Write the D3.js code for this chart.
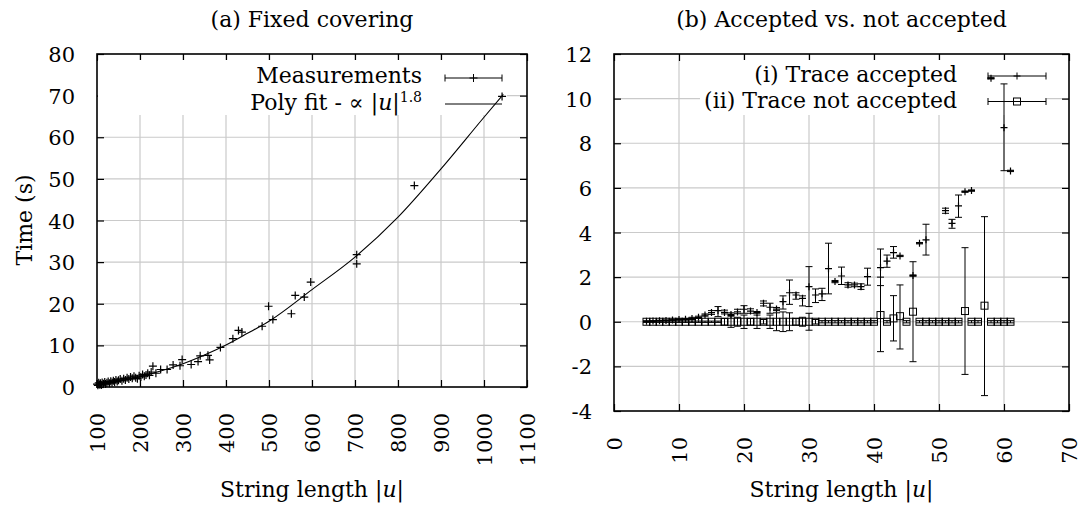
<!DOCTYPE html>
<html>
<head>
<meta charset="utf-8">
<script src="https://cdn.jsdelivr.net/npm/d3@7"></script>
<style>
  body { margin: 0; background: #fff; }
  svg text { font-family: "DejaVu Serif", serif; fill: #000; }
</style>
</head>
<body>
<div id="chart"></div>
<script>
// (a) measurements: string length vs time
const measX = [100,102,104,106,108,110,112,115,118,120,123,126,129,132,135,138,141,144,147,150,
  154,158,162,166,170,174,178,182,186,190,194,198,202,206,210,214,218,222,226,
  230,237,248,263,277,293,298,319,335,340,358,362,387,416,429,437,484,499,509,552,561,582,597,704,704,838,1042];
const measY = [0.7,0.4,1.0,0.6,0.9,0.5,1.1,0.8,1.2,0.7,1.0,1.3,0.9,1.4,1.1,1.5,1.2,1.7,1.3,1.6,
  1.9,1.5,2.0,1.7,2.2,1.9,2.4,2.1,2.6,2.2,2.0,2.7,2.4,3.0,2.6,2.9,3.3,2.8,3.6,
  5.0,3.3,4.2,4.2,5.3,5.1,6.6,5.4,6.1,7.5,7.6,6.5,9.5,11.6,13.6,13.2,14.6,19.4,16.2,17.6,22.0,21.6,25.2,31.8,29.6,48.4,69.8];

// (a) poly fit curve
const fitX = [100,150,200,250,300,350,400,450,500,600,700,800,900,1000,1045];
const fitY = [0.6,1.4,2.5,3.9,5.6,7.7,10.1,12.9,15.8,23.4,31.2,40.8,52.4,64.8,70.3];

// (b) trace accepted: value with min/max bar
const accX = [5,6,7,8,9,10,11,12,13,14,15,16,17,18,19,20,21,22,23,24,25,26,27,28,29,30,31,32,33,34,35,36,37,38,39,
  41,42,43,44,46,47,48,51,52,53,54,55,58,60,61];
const accY = [0.02,0.03,0.05,0.06,0.08,0.1,0.11,0.15,0.2,0.3,0.41,0.5,0.42,0.33,0.44,0.56,0.48,0.42,0.83,0.65,
  0.57,0.9,1.3,1.2,1.05,1.57,1.2,1.25,2.38,1.8,2.05,1.65,1.65,1.57,2.02,
  2.43,2.72,3.1,2.95,2.07,3.52,3.67,4.98,4.41,5.19,5.83,5.88,10.91,8.7,6.76];
const accLo = [0.0,0.01,0.03,0.04,0.05,0.07,0.08,0.1,0.15,0.25,0.33,0.23,0.35,0.28,0.36,0.38,0.38,0.38,0.71,0.38,
  0.5,0.57,0.78,1.01,0.71,0.68,0.86,0.95,1.25,1.75,1.67,1.55,1.57,1.45,1.64,
  1.62,2.44,2.85,2.92,2.04,3.49,2.99,4.86,4.19,4.68,5.8,5.85,10.88,6.77,6.73];
const accHi = [0.04,0.05,0.07,0.08,0.11,0.13,0.14,0.2,0.25,0.35,0.5,0.68,0.52,0.4,0.56,0.72,0.58,0.46,0.93,0.83,
  0.64,1.16,1.87,1.3,1.16,2.47,1.47,1.5,3.52,1.85,2.45,1.75,1.73,1.7,2.4,
  3.26,2.99,3.37,2.98,2.1,3.55,4.37,5.09,4.59,5.68,5.86,5.91,10.94,10.66,6.79];

// (b) trace not accepted: value with min/max bar
const rejX = [5,6,7,8,9,10,11,12,13,14,15,16,17,18,19,20,21,22,23,24,25,26,27,28,29,30,31,32,33,34,35,36,37,38,39,40,
  41,42,43,44,45,46,47,48,49,50,51,52,53,54,55,56,57,58,59,60,61];
const rejY = [0,0,0,0,0,0,0,0,0,0,0,0,0,0,0,0,0,0,0,0,0,0,0,0,0,0,0,0,0,0,0,0,0,0,0,0,
  0.3,0,0.15,0.25,0,0.45,0,0,0,0,0,0,0,0.48,0,0,0.72,0,0,0,0];
const rejLo = [-0.03,-0.03,-0.03,-0.03,-0.03,-0.03,-0.03,-0.03,-0.03,-0.03,-0.03,-0.03,
  -0.15,-0.25,-0.2,-0.3,-0.15,-0.3,-0.1,-0.3,-0.4,-0.44,-0.4,-0.15,-0.2,-0.38,-0.1,
  -0.05,-0.05,-0.05,-0.05,-0.05,-0.05,-0.05,-0.05,-0.05,
  -1.34,-0.05,-0.86,-1.22,-0.05,-1.79,-0.05,-0.05,-0.05,-0.05,-0.05,-0.05,-0.05,
  -2.36,-0.05,-0.05,-3.31,-0.05,-0.05,-0.05,-0.05];
const rejHi = [0.03,0.03,0.03,0.03,0.03,0.03,0.03,0.03,0.03,0.03,0.03,0.03,
  0.15,0.25,0.2,0.3,0.15,0.3,0.1,0.3,0.4,0.44,0.4,0.15,0.2,0.38,0.1,
  0.05,0.05,0.05,0.05,0.05,0.05,0.05,0.05,0.05,
  2.0,0.05,1.17,1.65,0.05,2.69,0.05,0.05,0.05,0.05,0.05,0.05,0.05,
  3.32,0.05,0.05,4.71,0.05,0.05,0.05,0.05];

// tick values
const xTicksA = [100,200,300,400,500,600,700,800,900,1000,1100];
const yTicksA = [0,10,20,30,40,50,60,70,80];
const xTicksB = [0,10,20,30,40,50,60,70];
const yTicksB = [-4,-2,0,2,4,6,8,10,12];

const width = 1082, height = 509;
const svg = d3.select("#chart").append("svg")
  .attr("width", width).attr("height", height);

const xa = d3.scaleLinear().domain([100, 1100]).range([97, 527]);
const ya = d3.scaleLinear().domain([0, 80]).range([387, 54]);
const xb = d3.scaleLinear().domain([0, 70]).range([614, 1069]);
const yb = d3.scaleLinear().domain([-4, 12]).range([411, 54]);

const plain = d => String(d);

function plus(x, y, s) {
  return `M${x - s},${y}h${2 * s}M${x},${y - s}v${2 * s}`;
}

function frame(x, y, xt, yt, title) {
  const [x0, x1] = x.range(), [y0, y1] = y.range();
  const g = svg.append("g");

  // grid
  g.append("g").selectAll("line").data(xt.slice(1, -1)).join("line")
    .attr("x1", d => x(d)).attr("x2", d => x(d)).attr("y1", y0).attr("y2", y1)
    .attr("stroke", "#cacaca").attr("stroke-width", 1.2);
  g.append("g").selectAll("line").data(yt.slice(1, -1)).join("line")
    .attr("y1", d => y(d)).attr("y2", d => y(d)).attr("x1", x0).attr("x2", x1)
    .attr("stroke", "#cacaca").attr("stroke-width", 1.2);

  // ticks on all four sides, pointing in
  const axes = [
    [d3.axisBottom(x).tickValues(xt).tickFormat(plain), `translate(0,${y0})`],
    [d3.axisTop(x).tickValues(xt).tickFormat(""), `translate(0,${y1})`],
    [d3.axisLeft(y).tickValues(yt).tickFormat(plain), `translate(${x0},0)`],
    [d3.axisRight(y).tickValues(yt).tickFormat(""), `translate(${x1},0)`]
  ];
  const made = axes.map(([ax, tr]) => {
    const a = g.append("g").attr("transform", tr).call(ax.tickSize(-7).tickSizeOuter(0));
    a.select(".domain").remove();
    a.selectAll("line").attr("stroke", "#000").attr("stroke-width", 1.2);
    return a;
  });

  made[0].selectAll("text")
    .attr("transform", "rotate(-90)")
    .attr("x", -26).attr("y", 0).attr("dy", "0.36em")
    .attr("text-anchor", "end")
    .style("font-size", "21px").style("font-family", "DejaVu Serif");
  made[2].selectAll("text")
    .attr("x", -22).attr("dy", "0.36em")
    .attr("text-anchor", "end")
    .style("font-size", "21px").style("font-family", "DejaVu Serif");

  svg.append("text")
    .attr("x", (x0 + x1) / 2).attr("y", 27)
    .attr("text-anchor", "middle").style("font-size", "22px")
    .text(title);

  const xl = svg.append("text")
    .attr("x", (x0 + x1) / 2).attr("y", 497)
    .attr("text-anchor", "middle").style("font-size", "22px");
  xl.append("tspan").text("String length |");
  xl.append("tspan").style("font-style", "italic").text("u");
  xl.append("tspan").text("|");
}

function border(x, y) {
  const [x0, x1] = x.range(), [y0, y1] = y.range();
  svg.append("rect")
    .attr("x", x0).attr("y", y1).attr("width", x1 - x0).attr("height", y0 - y1)
    .attr("fill", "none").attr("stroke", "#000").attr("stroke-width", 1.6);
}

function keyBar(g, x1, x2, yy) {
  g.append("path")
    .attr("d", `M${x1},${yy}H${x2}M${x1},${yy - 3.5}v7M${x2},${yy - 3.5}v7`)
    .attr("stroke", "#000").attr("fill", "none");
}

// ---------- (a) ----------
frame(xa, ya, xTicksA, yTicksA, "(a) Fixed covering");

svg.append("text")
  .attr("transform", "translate(24,220) rotate(-90)")
  .attr("text-anchor", "middle").attr("dy", "0.36em")
  .style("font-size", "22px")
  .text("Time (s)");

const keyA = svg.append("g");
keyA.append("rect").attr("x", 98).attr("y", 60).attr("width", 409).attr("height", 55).attr("fill", "#fff");
keyA.append("text").attr("x", 422).attr("y", 83).attr("text-anchor", "end")
  .style("font-size", "22px").text("Measurements");
keyBar(keyA, 445, 502, 78);
keyA.append("path").attr("d", plus(473.5, 78, 4)).attr("stroke", "#000");
const polyTxt = keyA.append("text").attr("x", 422).attr("y", 110).attr("text-anchor", "end")
  .style("font-size", "22px");
polyTxt.append("tspan").text("Poly fit - ∝ |");
polyTxt.append("tspan").style("font-style", "italic").text("u");
polyTxt.append("tspan").text("|");
polyTxt.append("tspan").attr("dy", -8).style("font-size", "14px").text("1.8");
keyA.append("line").attr("x1", 445).attr("x2", 502).attr("y1", 104).attr("y2", 104)
  .attr("stroke", "#000");

const fitLine = d3.line().x((d, i) => xa(fitX[i])).y((d, i) => ya(fitY[i])).curve(d3.curveMonotoneX);
svg.append("path").datum(fitX).attr("d", fitLine)
  .attr("fill", "none").attr("stroke", "#000").attr("stroke-width", 1.1);

svg.append("g").selectAll("path").data(measX).join("path")
  .attr("d", (d, i) => plus(xa(d), ya(measY[i]), 4))
  .attr("stroke", "#000").attr("stroke-width", 1.2);

border(xa, ya);

// ---------- (b) ----------
frame(xb, yb, xTicksB, yTicksB, "(b) Accepted vs. not accepted");

const keyB = svg.append("g");
keyB.append("rect").attr("x", 700).attr("y", 60).attr("width", 347).attr("height", 55).attr("fill", "#fff");
keyB.append("text").attr("x", 957).attr("y", 82).attr("text-anchor", "end")
  .style("font-size", "22px").text("(i) Trace accepted");
keyBar(keyB, 988, 1046, 76);
keyB.append("path").attr("d", plus(1017, 76, 3.5)).attr("stroke", "#000");
keyB.append("text").attr("x", 957).attr("y", 107.5).attr("text-anchor", "end")
  .style("font-size", "22px").text("(ii) Trace not accepted");
keyBar(keyB, 988, 1046, 101.5);
keyB.append("rect").attr("x", 1013.5).attr("y", 98).attr("width", 7).attr("height", 7)
  .attr("fill", "none").attr("stroke", "#000");

function bars(xs, lo, hi) {
  return svg.append("g").selectAll("path").data(xs).join("path")
    .attr("d", (d, i) => {
      const px = xb(d), a = yb(lo[i]), b = yb(hi[i]);
      return `M${px},${a}V${b}M${px - 3.5},${a}h7M${px - 3.5},${b}h7`;
    })
    .attr("stroke", "#000").attr("fill", "none").attr("stroke-width", 1);
}

bars(rejX, rejLo, rejHi);
svg.append("g").selectAll("rect").data(rejX).join("rect")
  .attr("x", d => xb(d) - 3.5).attr("y", (d, i) => yb(rejY[i]) - 3.5)
  .attr("width", 7).attr("height", 7)
  .attr("fill", "none").attr("stroke", "#000").attr("stroke-width", 1);

bars(accX, accLo, accHi);
svg.append("g").selectAll("path").data(accX).join("path")
  .attr("d", (d, i) => plus(xb(d), yb(accY[i]), 3.5))
  .attr("stroke", "#000").attr("stroke-width", 1.2);

border(xb, yb);
</script>
</body>
</html>
